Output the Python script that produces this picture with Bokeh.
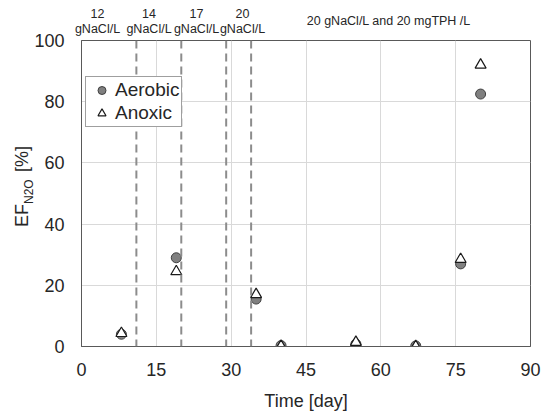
import numpy as np
from bokeh.plotting import figure
from bokeh.models import Span, Legend, LegendItem, FixedTicker, Range1d
from bokeh.core.properties import value
from bokeh.embed import file_html
from bokeh.resources import INLINE

# ---- data ----
days_aerobic = [8, 19, 35, 40, 55, 67, 76, 80]
ef_aerobic = [4, 29, 15.5, 0.3, 0.8, 0.2, 27, 82.5]
days_anoxic = [8, 19, 35, 40, 55, 67, 76, 80]
ef_anoxic = [4.3, 24.5, 17, 0.1, 1.4, 0.0, 28.5, 92]
phase_changes = [11, 20, 29, 34]
phase_labels_num = ["12", "14", "17", "20"]
phase_label_unit = "gNaCl/L"
final_phase_label = "20 gNaCl/L  and 20 mgTPH /L"
x_ticks = [0, 15, 30, 45, 60, 75, 90]
y_ticks = [0, 20, 40, 60, 80, 100]

FONT = "Liberation Sans"
TXT = "#262626"

p = figure(width=550, height=413, output_backend="svg", toolbar_location=None,
           x_range=Range1d(0, 90), y_range=Range1d(0, 100),
           min_border_left=81, min_border_right=20, min_border_top=40, min_border_bottom=66)
p.background_fill_color = "white"
p.border_fill_color = "white"
p.outline_line_color = "#595959"
p.outline_line_width = 1

p.xaxis.ticker = FixedTicker(ticks=x_ticks)
p.yaxis.ticker = FixedTicker(ticks=y_ticks)
for ax in (p.xaxis[0], p.yaxis[0]):
    ax.major_label_text_font = FONT
    ax.major_label_text_font_size = "18px"
    ax.major_label_text_color = TXT
    ax.major_tick_line_color = None
    ax.major_tick_out = 0
    ax.major_tick_in = 0
    ax.minor_tick_line_color = None
    ax.axis_line_color = "#595959"
    ax.axis_line_width = 1
p.xaxis.major_label_standoff = 16
p.yaxis.major_label_standoff = 17
p.xaxis.axis_label = "Time [day]"
p.xaxis.axis_label_text_font = FONT
p.xaxis.axis_label_text_font_size = "18px"
p.xaxis.axis_label_text_font_style = "normal"
p.xaxis.axis_label_text_color = TXT
p.xaxis.axis_label_standoff = 12

p.xgrid.grid_line_color = "#d9d9d9"
p.ygrid.grid_line_color = "#d9d9d9"

for d in phase_changes:
    p.add_layout(Span(location=d, dimension="height", line_color="#8c8c8c",
                      line_width=2, line_dash="8 5"))

r_aer = p.scatter(days_aerobic, ef_aerobic, marker="circle", size=10,
                  fill_color="#808080", line_color="#404040", line_width=1)
r_anx = p.scatter(days_anoxic, ef_anoxic, marker="triangle", size=11,
                  fill_color="white", line_color="#1a1a1a", line_width=1.2)

legend = Legend(items=[LegendItem(label="Aerobic", renderers=[r_aer]),
                       LegendItem(label="Anoxic", renderers=[r_anx])],
                location=(4, 219))
legend.label_text_font = FONT
legend.label_text_font_size = "19px"
legend.label_text_color = TXT
legend.border_line_color = "#404040"
legend.background_fill_alpha = 1
legend.padding = 2
legend.spacing = 1
legend.margin = 0
legend.glyph_width = 27
legend.glyph_height = 20
legend.label_height = 20
legend.label_standoff = 0
p.add_layout(legend, "center")

# ---- texts outside the frame: text glyphs drawn at an unclipped level ----
# pixel <-> data helpers from the frame geometry
PX_X = 449 / 90.0
PX_Y = 307 / 100.0

def dx(px):  # horizontal page pixel -> data x
    return (px - 81) / PX_X

def dy(py):  # vertical page pixel -> data y
    return (347 - py) / PX_Y

num_x = [dx(97), dx(148.5), dx(196), dx(242)]
n = len(phase_labels_num)
p.text(x=num_x, y=[dy(13)] * n, text=phase_labels_num, text_font=value(FONT),
       text_font_size="12.5px", text_color=TXT, text_align="center",
       text_baseline="middle", level="overlay")
p.text(x=num_x, y=[dy(28)] * n, text=[phase_label_unit] * n, text_font=value(FONT),
       text_font_size="12.5px", text_color=TXT, text_align="center",
       text_baseline="middle", level="overlay")
p.text(x=[dx(390)], y=[dy(20)], text=[final_phase_label], text_font=value(FONT),
       text_font_size="12.5px", text_color=TXT, text_align="center",
       text_baseline="middle", level="overlay")

# y axis title EF_N2O [%]
p.text(x=[dx(21), dx(21)], y=[dy(227), dy(172)], text=["EF", "[%]"], angle=np.pi / 2,
       text_font=value(FONT), text_font_size="18px", text_color=TXT,
       text_align="left", text_baseline="middle", level="overlay")
p.text(x=[dx(28)], y=[dy(204)], text=["N2O"], angle=np.pi / 2,
       text_font=value(FONT), text_font_size="12px", text_color=TXT,
       text_align="left", text_baseline="middle", level="overlay")

open("out.html", "w").write(file_html(p, INLINE))
